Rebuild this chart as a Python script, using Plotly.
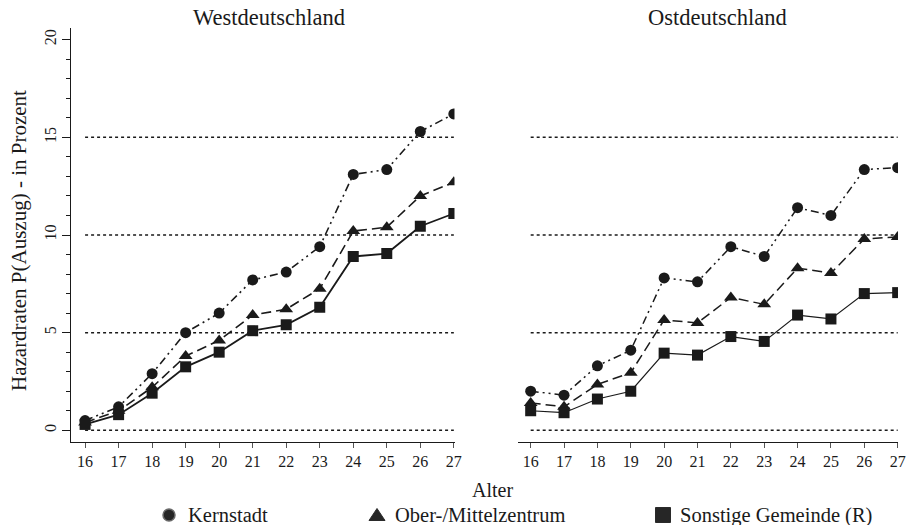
import plotly.graph_objects as go

ages = [16, 17, 18, 19, 20, 21, 22, 23, 24, 25, 26, 27]

west_kern = [0.5, 1.2, 2.9, 5.0, 6.0, 7.7, 8.1, 9.4, 13.1, 13.35, 15.3, 16.2]
west_ober = [0.4, 1.0, 2.2, 3.8, 4.6, 5.9, 6.2, 7.25, 10.2, 10.4, 12.0, 12.7]
west_sonst = [0.3, 0.8, 1.9, 3.25, 4.0, 5.1, 5.4, 6.3, 8.9, 9.05, 10.45, 11.1]

ost_kern = [2.0, 1.8, 3.3, 4.1, 7.8, 7.6, 9.4, 8.9, 11.4, 11.0, 13.35, 13.45]
ost_ober = [1.4, 1.2, 2.35, 2.95, 5.65, 5.5, 6.8, 6.45, 8.3, 8.05, 9.8, 9.9]
ost_sonst = [1.0, 0.9, 1.6, 2.0, 3.95, 3.85, 4.8, 4.55, 5.9, 5.7, 7.0, 7.05]

ref_levels = [0, 5, 10, 15]
series_names = ["Kernstadt", "Ober-/Mittelzentrum", "Sonstige Gemeinde (R)"]
panel_titles = ["Westdeutschland", "Ostdeutschland"]
y_title = "Hazardraten P(Auszug) - in Prozent"
x_title = "Alter"

FONT = "Liberation Serif"
INK = "#1a1a1a"
W, H = 908, 525

symbols = ["circle", "triangle-up", "square"]
dashes = ["8px,4px,2px,4px,2px,4px", "10px,5px", "solid"]
widths = [[1.6, 1.6, 1.8], [1.5, 1.5, 1.2]]

fig = go.Figure()

panels = [("x", "y", [west_kern, west_ober, west_sonst]),
          ("x2", "y2", [ost_kern, ost_ober, ost_sonst])]

for pi, (xa, ya, data) in enumerate(panels):
    for lv in ref_levels:
        fig.add_trace(go.Scatter(x=[ages[0], ages[-1]], y=[lv, lv], mode="lines",
                                 line=dict(color=INK, width=1.5, dash="dot"),
                                 xaxis=xa, yaxis=ya, showlegend=False, hoverinfo="skip"))
    for si, vals in enumerate(data):
        fig.add_trace(go.Scatter(x=ages, y=vals, mode="lines+markers",
                                 line=dict(color=INK, width=widths[pi][si], dash=dashes[si]),
                                 marker=dict(symbol=symbols[si], size=11 if si != 1 else 12,
                                             color=INK),
                                 xaxis=xa, yaxis=ya, showlegend=False,
                                 name=series_names[si]))


def px(x):
    return x / W


def py(y):
    return 1 - y / H


ydom = [py(442), py(28)]
axis_font = dict(family=FONT, size=16, color=INK)

fig.update_layout(
    width=W, height=H,
    margin=dict(l=0, r=0, t=0, b=0),
    paper_bgcolor="white", plot_bgcolor="white",
    font=dict(family=FONT, size=16, color=INK),
    showlegend=False,
    xaxis=dict(domain=[px(71), px(454.5)], range=[15.58, 27.02], tickvals=ages,
               ticks="outside", ticklen=5, tickwidth=1, tickcolor="#555",
               showline=True, linecolor=INK, linewidth=1.2, showgrid=False, zeroline=False,
               tickfont=axis_font, anchor="y", automargin=False, ticklabeloverflow="allow"),
    yaxis=dict(domain=ydom, range=[-0.6, 20.6], tickvals=[0, 5, 10, 15, 20],
               ticks="outside", ticklen=8, tickwidth=1, tickcolor=INK, tickangle=-90,
               minor=dict(dtick=1, ticks="outside", ticklen=4, tickwidth=1, tickcolor=INK),
               showline=True, linecolor=INK, linewidth=1.2, showgrid=False, zeroline=False,
               tickfont=axis_font, anchor="x", automargin=False, ticklabeloverflow="allow"),
    xaxis2=dict(domain=[px(518), px(898)], range=[15.62, 27.01], tickvals=ages,
                ticks="outside", ticklen=5, tickwidth=1, tickcolor="#555",
                showline=True, linecolor=INK, linewidth=1.2, showgrid=False, zeroline=False,
                tickfont=axis_font, anchor="y2", automargin=False, ticklabeloverflow="allow"),
    yaxis2=dict(domain=ydom, range=[-0.6, 20.6], showticklabels=False, ticks="",
                showline=False, showgrid=False, zeroline=False, anchor="x2", automargin=False),
)

# legend keys (drawn as pixel-sized shapes) and legend labels
key_x = [169, 377, 663]
text_x = [186, 393, 678]
leg_y = 515
shape_common = dict(xref="paper", yref="paper", xsizemode="pixel", ysizemode="pixel",
                    fillcolor="#262626")
fig.add_shape(type="circle", xanchor=px(key_x[0]), yanchor=py(leg_y),
              x0=-6, x1=6, y0=-6, y1=6, line=dict(color="#6a6a6a", width=1.5), **shape_common)
fig.add_shape(type="path", xanchor=px(key_x[1]), yanchor=py(leg_y),
              path="M -8,-5.5 L 8,-5.5 L 0,6.5 Z", line=dict(color="#2a2a2a", width=1),
              **shape_common)
fig.add_shape(type="rect", xanchor=px(key_x[2]), yanchor=py(leg_y),
              x0=-7.5, x1=7.5, y0=-7.5, y1=7.5, line=dict(color="#2a2a2a", width=1),
              **shape_common)

annos = [
    dict(text=panel_titles[0], x=px(269), y=py(18), xanchor="center", font=dict(size=22.5)),
    dict(text=panel_titles[1], x=px(717), y=py(18), xanchor="center", font=dict(size=22.5)),
    dict(text=x_title, x=px(493), y=py(490), xanchor="center", font=dict(size=20)),
    dict(text=y_title, x=px(19), y=py(241), xanchor="center", textangle=-90, font=dict(size=21)),
]
for i, name in enumerate(series_names):
    annos.append(dict(text=name, x=px(text_x[i]), y=py(leg_y), xanchor="left",
                      font=dict(size=20.5)))
for a in annos:
    fig.add_annotation(xref="paper", yref="paper", showarrow=False,
                       yanchor="middle", **a)

fig.write_html("out.html", config={"displayModeBar": False},
               post_script="document.body.style.margin='0';")
